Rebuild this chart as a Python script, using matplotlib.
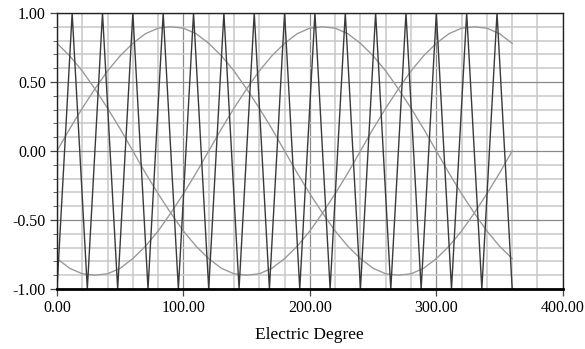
import matplotlib
matplotlib.use('Agg')
import matplotlib.pyplot as plt
from matplotlib.ticker import MultipleLocator, FormatStrFormatter

# carrier triangle (vertices, electric degree)
carrier_x = [0, 12, 24, 36, 48, 60, 72, 84, 96, 108, 120, 132, 144, 156, 168,
             180, 192, 204, 216, 228, 240, 252, 264, 276, 288, 300, 312, 324,
             336, 348, 360]
carrier_y = [-1, 1, -1, 1, -1, 1, -1, 1, -1, 1, -1, 1, -1, 1, -1,
             1, -1, 1, -1, 1, -1, 1, -1, 1, -1, 1, -1, 1, -1, 1, -1]

# three phase references, read every 10 degrees
deg = [0, 10, 20, 30, 40, 50, 60, 70, 80, 90, 100, 110, 120, 130, 140, 150,
       160, 170, 180, 190, 200, 210, 220, 230, 240, 250, 260, 270, 280, 290,
       300, 310, 320, 330, 340, 350, 360]
phase_a = [0.00, 0.16, 0.31, 0.45, 0.58, 0.69, 0.78, 0.85, 0.89, 0.90, 0.89,
           0.85, 0.78, 0.69, 0.58, 0.45, 0.31, 0.16, 0.00, -0.16, -0.31, -0.45,
           -0.58, -0.69, -0.78, -0.85, -0.89, -0.90, -0.89, -0.85, -0.78, -0.69,
           -0.58, -0.45, -0.31, -0.16, 0.00]
phase_b = [0.78, 0.69, 0.58, 0.45, 0.31, 0.16, 0.00, -0.16, -0.31, -0.45, -0.58,
           -0.69, -0.78, -0.85, -0.89, -0.90, -0.89, -0.85, -0.78, -0.69, -0.58,
           -0.45, -0.31, -0.16, 0.00, 0.16, 0.31, 0.45, 0.58, 0.69, 0.78, 0.85,
           0.89, 0.90, 0.89, 0.85, 0.78]
phase_c = [-0.78, -0.85, -0.89, -0.90, -0.89, -0.85, -0.78, -0.69, -0.58, -0.45,
           -0.31, -0.16, 0.00, 0.16, 0.31, 0.45, 0.58, 0.69, 0.78, 0.85, 0.89,
           0.90, 0.89, 0.85, 0.78, 0.69, 0.58, 0.45, 0.31, 0.16, 0.00, -0.16,
           -0.31, -0.45, -0.58, -0.69, -0.78]

plt.rcParams['font.family'] = ['Liberation Serif', 'DejaVu Serif']

fig = plt.figure(figsize=(5.85, 3.49), dpi=100)
ax = fig.add_axes([0.0974, 0.172, 0.8646, 0.7908])

# grid
ax.xaxis.set_major_locator(MultipleLocator(100))
ax.xaxis.set_minor_locator(MultipleLocator(20))
ax.yaxis.set_major_locator(MultipleLocator(0.5))
ax.yaxis.set_minor_locator(MultipleLocator(0.1))
ax.grid(which='minor', color='#c8c8c8', linewidth=1.1)
ax.grid(which='major', color='#8a8a8a', linewidth=0.9)
ax.set_axisbelow(True)

for ph in (phase_a, phase_b, phase_c):
    ax.plot(deg, ph, color='#9a9a9a', linewidth=1.0)
ax.plot(carrier_x, carrier_y, color='#3a3a3a', linewidth=1.0)

ax.set_xlim(0, 400)
ax.set_ylim(-1, 1)
ax.xaxis.set_major_formatter(FormatStrFormatter('%.2f'))
ax.yaxis.set_major_formatter(FormatStrFormatter('%.2f'))
ax.tick_params(axis='both', which='major', labelsize=11.5, color='#444444',
               length=5, width=0.9, pad=3)
ax.tick_params(axis='y', which='minor', length=3, color='#444444')
ax.tick_params(axis='x', which='minor', length=0)
ax.set_xlabel('Electric Degree', fontsize=12.5, labelpad=8)

for side in ('top', 'right', 'left'):
    ax.spines[side].set_color('#222222')
    ax.spines[side].set_linewidth(1.0)
ax.spines['bottom'].set_color('black')
ax.spines['bottom'].set_linewidth(2.0)

fig.savefig('out.png', dpi=100)
